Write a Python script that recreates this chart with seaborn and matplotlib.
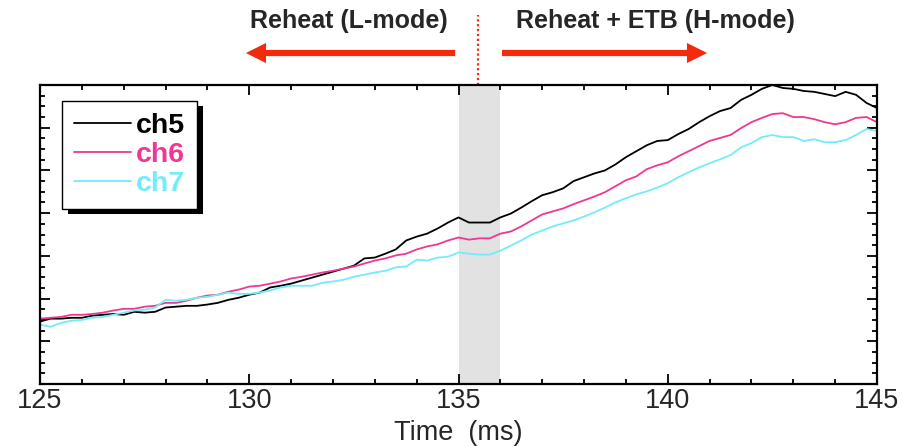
import numpy as np
import pandas as pd
import matplotlib
matplotlib.use("Agg")
import matplotlib.pyplot as plt
import matplotlib.transforms as mtransforms
from matplotlib.patches import Rectangle
import seaborn as sns

# Sampling times (ms)
time_ms = np.round(np.arange(125.0, 145.001, 0.25), 2)

# Channel signals (arbitrary units)
ch5 = [1.46, 1.53, 1.53, 1.55, 1.55, 1.60, 1.62, 1.64, 1.62, 1.69,
       1.67, 1.69, 1.79, 1.81, 1.83, 1.83, 1.86, 1.90, 1.97, 2.02,
       2.09, 2.14, 2.26, 2.30, 2.35, 2.42, 2.49, 2.56, 2.63, 2.70,
       2.77, 2.94, 2.96, 3.05, 3.15, 3.36, 3.45, 3.52, 3.64, 3.78,
       3.90, 3.78, 3.78, 3.78, 3.90, 3.99, 4.13, 4.28, 4.42, 4.49,
       4.58, 4.75, 4.84, 4.93, 5.00, 5.14, 5.31, 5.45, 5.59, 5.69,
       5.71, 5.85, 5.97, 6.13, 6.27, 6.39, 6.46, 6.65, 6.77, 6.91,
       7.00, 6.93, 6.91, 6.86, 6.84, 6.79, 6.74, 6.84, 6.77, 6.58,
       6.46]
ch6 = [1.53, 1.55, 1.57, 1.62, 1.62, 1.64, 1.67, 1.72, 1.76, 1.76,
       1.81, 1.83, 1.90, 1.90, 1.95, 2.02, 2.07, 2.09, 2.16, 2.21,
       2.28, 2.30, 2.35, 2.40, 2.47, 2.51, 2.56, 2.61, 2.65, 2.70,
       2.75, 2.82, 2.89, 2.94, 3.01, 3.05, 3.15, 3.22, 3.27, 3.36,
       3.43, 3.38, 3.41, 3.41, 3.52, 3.57, 3.69, 3.83, 3.97, 4.04,
       4.11, 4.21, 4.30, 4.39, 4.49, 4.63, 4.77, 4.86, 5.03, 5.12,
       5.19, 5.33, 5.45, 5.57, 5.69, 5.76, 5.83, 5.99, 6.13, 6.23,
       6.32, 6.34, 6.25, 6.25, 6.20, 6.13, 6.08, 6.13, 6.23, 6.25,
       6.13]
ch7 = [1.39, 1.34, 1.43, 1.48, 1.50, 1.55, 1.57, 1.62, 1.67, 1.72,
       1.74, 1.79, 1.97, 1.95, 1.97, 2.02, 2.04, 2.09, 2.14, 2.11,
       2.11, 2.14, 2.19, 2.26, 2.30, 2.30, 2.30, 2.37, 2.40, 2.44,
       2.51, 2.56, 2.61, 2.65, 2.73, 2.75, 2.91, 2.89, 2.96, 2.98,
       3.08, 3.05, 3.03, 3.03, 3.12, 3.24, 3.36, 3.50, 3.59, 3.69,
       3.76, 3.83, 3.92, 4.02, 4.13, 4.25, 4.35, 4.44, 4.51, 4.60,
       4.70, 4.84, 4.96, 5.07, 5.17, 5.26, 5.36, 5.54, 5.64, 5.78,
       5.83, 5.78, 5.78, 5.69, 5.73, 5.66, 5.66, 5.71, 5.83, 5.97,
       5.92]

channels = ["ch5", "ch6", "ch7"]
colors = {"ch5": "#000000", "ch6": "#ee3891", "ch7": "#72ecfb"}

# Transition window and phase labels
transition = (135.0, 136.0)
transition_mark = 135.47
phase_left = "Reheat (L-mode)"
phase_right = "Reheat + ETB (H-mode)"

df = pd.DataFrame({
    "time": np.concatenate([time_ms] * 3),
    "signal": np.concatenate([ch5, ch6, ch7]),
    "channel": np.repeat(channels, len(time_ms)),
})

sns.set_style("ticks")
plt.rcParams["font.family"] = ["Liberation Sans", "DejaVu Sans"]

fig = plt.figure(figsize=(9.21, 4.46), dpi=100)
ax = fig.add_axes([40 / 921, 62 / 446, 837 / 921, 299 / 446])

ax.axvspan(*transition, color="#e1e2e1", lw=0, zorder=0)

sns.lineplot(data=df, x="time", y="signal", hue="channel", palette=colors,
             linewidth=1.3, ax=ax, legend=True)

ax.set_xlim(125, 145)
ax.set_ylim(0, 7)
ax.set_xticks([125, 130, 135, 140, 145])
ax.set_xticks(np.arange(125, 146, 1), minor=True)
ax.set_yticks(np.arange(0, 8, 1))
ax.set_yticks(np.arange(0, 7.01, 0.25), minor=True)
ax.set_yticklabels([])
ax.set_ylabel("")
ax.set_xlabel("Time  (ms)", fontsize=19.5, labelpad=4)
ax.tick_params(which="both", direction="in", top=True, right=True,
               color="black", width=1.3)
ax.tick_params(which="major", length=7.5, labelsize=19.5, pad=3)
ax.tick_params(which="minor", length=3.8)
for s in ax.spines.values():
    s.set_linewidth(1.6)
    s.set_color("black")

# Legend with a solid drop shadow
leg = ax.legend(loc="upper left", bbox_to_anchor=(0.026, 0.946),
                frameon=True, fancybox=False, handlelength=2.0,
                handletextpad=0.2, labelspacing=0.1, borderpad=0.42,
                borderaxespad=0, prop={"weight": "bold", "size": 20.5},
                labelcolor="linecolor")
leg.get_frame().set_edgecolor("black")
leg.get_frame().set_linewidth(1.0)
leg.get_frame().set_alpha(1)
for line in leg.get_lines():
    line.set_linewidth(1.3)

fig.canvas.draw()
bb = leg.get_window_extent()
ax.add_patch(Rectangle((bb.x0 + 6, bb.y0 - 5), bb.width, bb.height,
                       transform=mtransforms.IdentityTransform(),
                       facecolor="black", edgecolor="none",
                       zorder=4.9, clip_on=False))

# Phase annotations above the axes
blend = mtransforms.blended_transform_factory(ax.transData, ax.transAxes)
red = "#f42a0c"
ax.text(132.38, 1.214, phase_left, transform=blend, ha="center", va="center",
        fontsize=18, fontweight="bold")
ax.text(139.70, 1.214, phase_right, transform=blend, ha="center", va="center",
        fontsize=18, fontweight="bold")
arrow_style = "simple,head_length=1.45,head_width=1.45,tail_width=0.45"
ax.annotate("", xy=(129.92, 1.107), xytext=(134.92, 1.107),
            xycoords=blend, textcoords=blend,
            arrowprops=dict(arrowstyle=arrow_style, mutation_scale=10,
                            color=red, lw=0, shrinkA=0, shrinkB=0))
ax.annotate("", xy=(140.94, 1.107), xytext=(136.04, 1.107),
            xycoords=blend, textcoords=blend,
            arrowprops=dict(arrowstyle=arrow_style, mutation_scale=10,
                            color=red, lw=0, shrinkA=0, shrinkB=0))
ax.plot([transition_mark, transition_mark], [1.0, 1.234], transform=blend,
        color=red, lw=1.6, ls=(0, (1, 1.2)), clip_on=False)

fig.savefig("out.png", dpi=100)
